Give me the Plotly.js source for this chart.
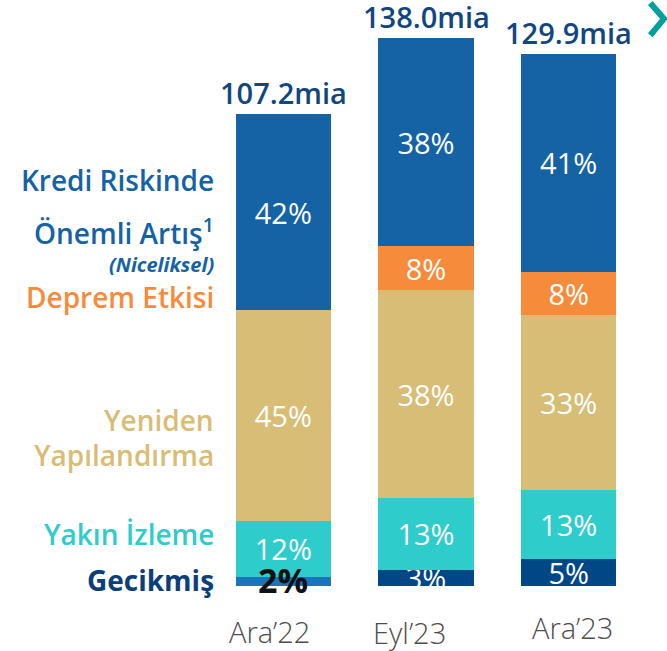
<!DOCTYPE html>
<html><head><meta charset="utf-8">
<script src="https://cdn.plot.ly/plotly-3.0.1.min.js"></script>
<style>html,body{margin:0;padding:0;background:#fff}</style>
</head><body>
<div id="chart" style="width:667px;height:651px"></div>
<script>
// Categories and labels
const categories = ["Ara’22", "Eyl’23", "Ara’23"];
const totalLabels = ["107.2mia", "138.0mia", "129.9mia"];
// Visual bar height (relative to the tallest bar)
const barHeight = [86.1, 100, 97.1];
// Segment shares (%) bottom to top
const gecikmis = [2, 3, 5];
const yakinIzleme = [12, 13, 13];
const yenidenYapilandirma = [45, 38, 33];
const depremEtkisi = [0, 8, 8];
const krediRiskinde = [42, 38, 41];

const sums = categories.map((c, i) =>
  gecikmis[i] + yakinIzleme[i] + yenidenYapilandirma[i] + depremEtkisi[i] + krediRiskinde[i]);
const scaled = arr => arr.map((v, i) => v / sums[i] * barHeight[i]);
const pctText = (arr, hide) => arr.map((v, i) => (v === 0 || (hide && hide[i])) ? "" : v + "%");

const FONT = "Open Sans, Noto Sans, sans-serif";
function seg(values, color, textColor, hide) {
  return {
    type: "bar", x: categories, y: scaled(values),
    marker: {color: color, line: {width: 0}},
    text: pctText(values, hide), textposition: "inside", insidetextanchor: "middle",
    constraintext: "none", textangle: 0,
    textfont: {family: FONT, size: 29, color: textColor},
    hoverinfo: "skip"
  };
}

const data = [
  seg(gecikmis, ["#1b75bb", "#004785", "#004785"], "#ffffff", [true, false, false]),
  seg(yakinIzleme, "#2ecccb", "#ffffff"),
  seg(yenidenYapilandirma, "#d8bd76", "#ffffff"),
  seg(depremEtkisi, "#f68b3c", "#ffffff"),
  seg(krediRiskinde, "#1563a5", "#ffffff")
];

const annotations = [];
categories.forEach((c, i) => {
  annotations.push({
    x: c, y: barHeight[i], xref: "x", yref: "y", text: totalLabels[i],
    showarrow: false, yanchor: "bottom", yshift: 1, borderpad: 0,
    font: {family: FONT, size: 29, color: "#12467f", weight: 600}
  });
});
// black 2% label for the small segment of the first bar
annotations.push({
  x: categories[0], y: 0, xref: "x", yref: "y", text: "<b>" + gecikmis[0] + "%</b>",
  showarrow: false, yanchor: "middle", yshift: 6,
  font: {family: FONT, size: 34, color: "#111111"}
});
// category labels under the bars (offset as in the source)
const catShift = [[-14, -45], [-17, -46], [4, -41]];
categories.forEach((c, i) => annotations.push({
  x: c, y: 0, xref: "x", yref: "y", text: c, showarrow: false, borderpad: 0,
  xanchor: "center", yanchor: "middle", xshift: catShift[i][0], yshift: catShift[i][1],
  font: {family: FONT, size: 29, color: "#4d4d4d", weight: 300}
}));

const H = 548, B = 586;
const py = p => (B - p) / H;
const leftLabels = [
  {t: "Kredi Riskinde", y: 180, c: "#1563a5", s: 28, w: 600},
  {t: "Önemli Artış<sup>1</sup>", y: 232, c: "#1563a5", s: 28, w: 600},
  {t: "<i>(Niceliksel)</i>", y: 264, c: "#1563a5", s: 20, w: 700},
  {t: "Deprem Etkisi", y: 297, c: "#f68b3c", s: 28, w: 600},
  {t: "Yeniden", y: 420, c: "#d8bd76", s: 28, w: 600},
  {t: "Yapılandırma", y: 455, c: "#d8bd76", s: 28, w: 600},
  {t: "Yakın İzleme", y: 534, c: "#2ecccb", s: 28, w: 600},
  {t: "Gecikmiş", y: 580, c: "#0c3f7a", s: 28, w: 700}
];
leftLabels.forEach(l => annotations.push({
  x: 0, xref: "paper", y: py(l.y), yref: "paper", xanchor: "right", yanchor: "middle",
  xshift: 4, text: l.t, showarrow: false,
  font: {family: FONT, size: l.s, color: l.c, weight: l.w}
}));

const layout = {
  width: 667, height: 651,
  margin: {l: 212, r: 27, t: 38, b: 65},
  barmode: "stack", bargap: 0.333, showlegend: false,
  paper_bgcolor: "#ffffff", plot_bgcolor: "#ffffff",
  xaxis: {type: "category", showline: false, showgrid: false, zeroline: false, ticks: "",
          showticklabels: false},
  yaxis: {range: [0, 100], visible: false, fixedrange: true},
  annotations: annotations,
  shapes: [{
    type: "path", xref: "paper", yref: "paper",
    path: "M 1.024 1.064 L 1.056 1.035 L 1.024 1.005",
    line: {color: "#00a19a", width: 6}
  }]
};

Plotly.newPlot("chart", data, layout, {displayModeBar: false, staticPlot: true});
</script>
</body></html>
